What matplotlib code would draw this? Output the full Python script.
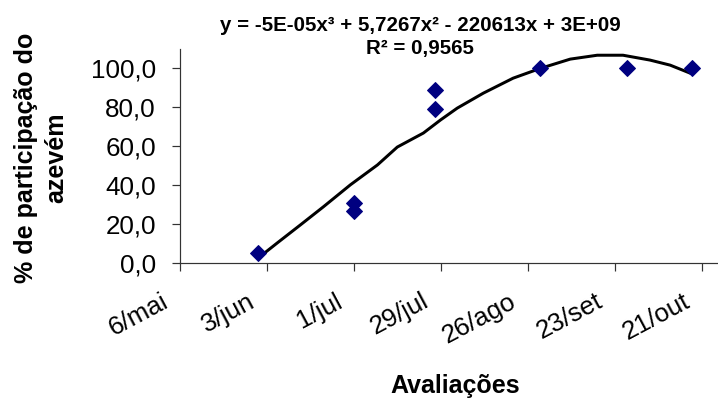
import matplotlib.pyplot as plt
import numpy as np
from matplotlib.ticker import FuncFormatter
from matplotlib.transforms import ScaledTranslation

plt.rcParams['font.family'] = ['Liberation Sans', 'DejaVu Sans']

# eixo x em dias contados a partir de 6/mai
dias_ticks = [0, 28, 56, 84, 112, 140, 168]
rotulos_ticks = ['6/mai', '3/jun', '1/jul', '29/jul', '26/ago', '23/set', '21/out']

# avaliações (dias desde 6/mai) e % de participação do azevém
dias = [25, 56, 56, 82, 82, 116, 144, 165]
azevem = [5.0, 31.0, 26.5, 89.0, 79.0, 100.0, 100.0, 100.0]

# linha de tendência polinomial
dias_tend = [25.3, 31.4, 38.8, 46.2, 54.9, 63.6, 70.0, 78.4, 83.9, 89.3,
             97.7, 107.3, 116.0, 125.7, 134.4, 142.7, 151.4, 157.9, 164.3]
tend = [2.7, 10.4, 19.6, 28.9, 40.2, 50.4, 59.6, 66.8, 73.5, 79.6,
        87.3, 95.0, 100.0, 104.8, 106.8, 106.8, 104.3, 101.7, 97.6]

equacao = 'y = -5E-05x³ + 5,7267x² - 220613x + 3E+09'
r2 = 'R² = 0,9565'

fig = plt.figure(figsize=(718 / 72, 400 / 72), dpi=72)
ax = fig.add_axes([180 / 718, 137 / 400, 538 / 718, 214 / 400])

ax.plot(dias_tend, tend, color='black', lw=3, zorder=2, solid_joinstyle='round')
ax.plot(dias, azevem, 'D', color='#000080', ms=11, zorder=3, clip_on=False)

ax.set_xlim(0, 173.3)
ax.set_ylim(0, 110)
ax.set_yticks(np.arange(0, 101, 20))
ax.yaxis.set_major_formatter(FuncFormatter(lambda v, p: f'{v:.1f}'.replace('.', ',')))
ax.set_xticks(dias_ticks)
ax.set_xticklabels(rotulos_ticks, rotation=28, ha='right', va='top')

for s in ['top', 'right']:
    ax.spines[s].set_visible(False)
for s in ['left', 'bottom']:
    ax.spines[s].set_color('#333333')
    ax.spines[s].set_linewidth(1.2)

ax.tick_params(axis='y', direction='out', length=8, width=1.2, color='#333333',
               labelsize=26, pad=16)
ax.tick_params(axis='x', direction='out', length=8, width=1.2, color='#333333',
               labelsize=26, pad=18)
for lab in ax.get_xticklabels():
    lab.set_transform(lab.get_transform() + ScaledTranslation(-8 / 72, 0, fig.dpi_scale_trans))

fig.text(420 / 718, 1 - 31 / 400, equacao, ha='center', va='baseline', fontsize=20.5,
         fontweight='bold')
fig.text(420 / 718, 1 - 54 / 400, r2, ha='center', va='baseline', fontsize=20.5,
         fontweight='bold')
fig.text(41 / 718, 1 - 158 / 400, '% de participação do\nazevém', rotation=90,
         ha='center', va='center', fontsize=25, fontweight='bold', linespacing=1.35)
fig.text(455 / 718, 1 - 386 / 400, 'Avaliações', ha='center', va='center',
         fontsize=25, fontweight='bold')

fig.savefig('out.png', dpi=72)
